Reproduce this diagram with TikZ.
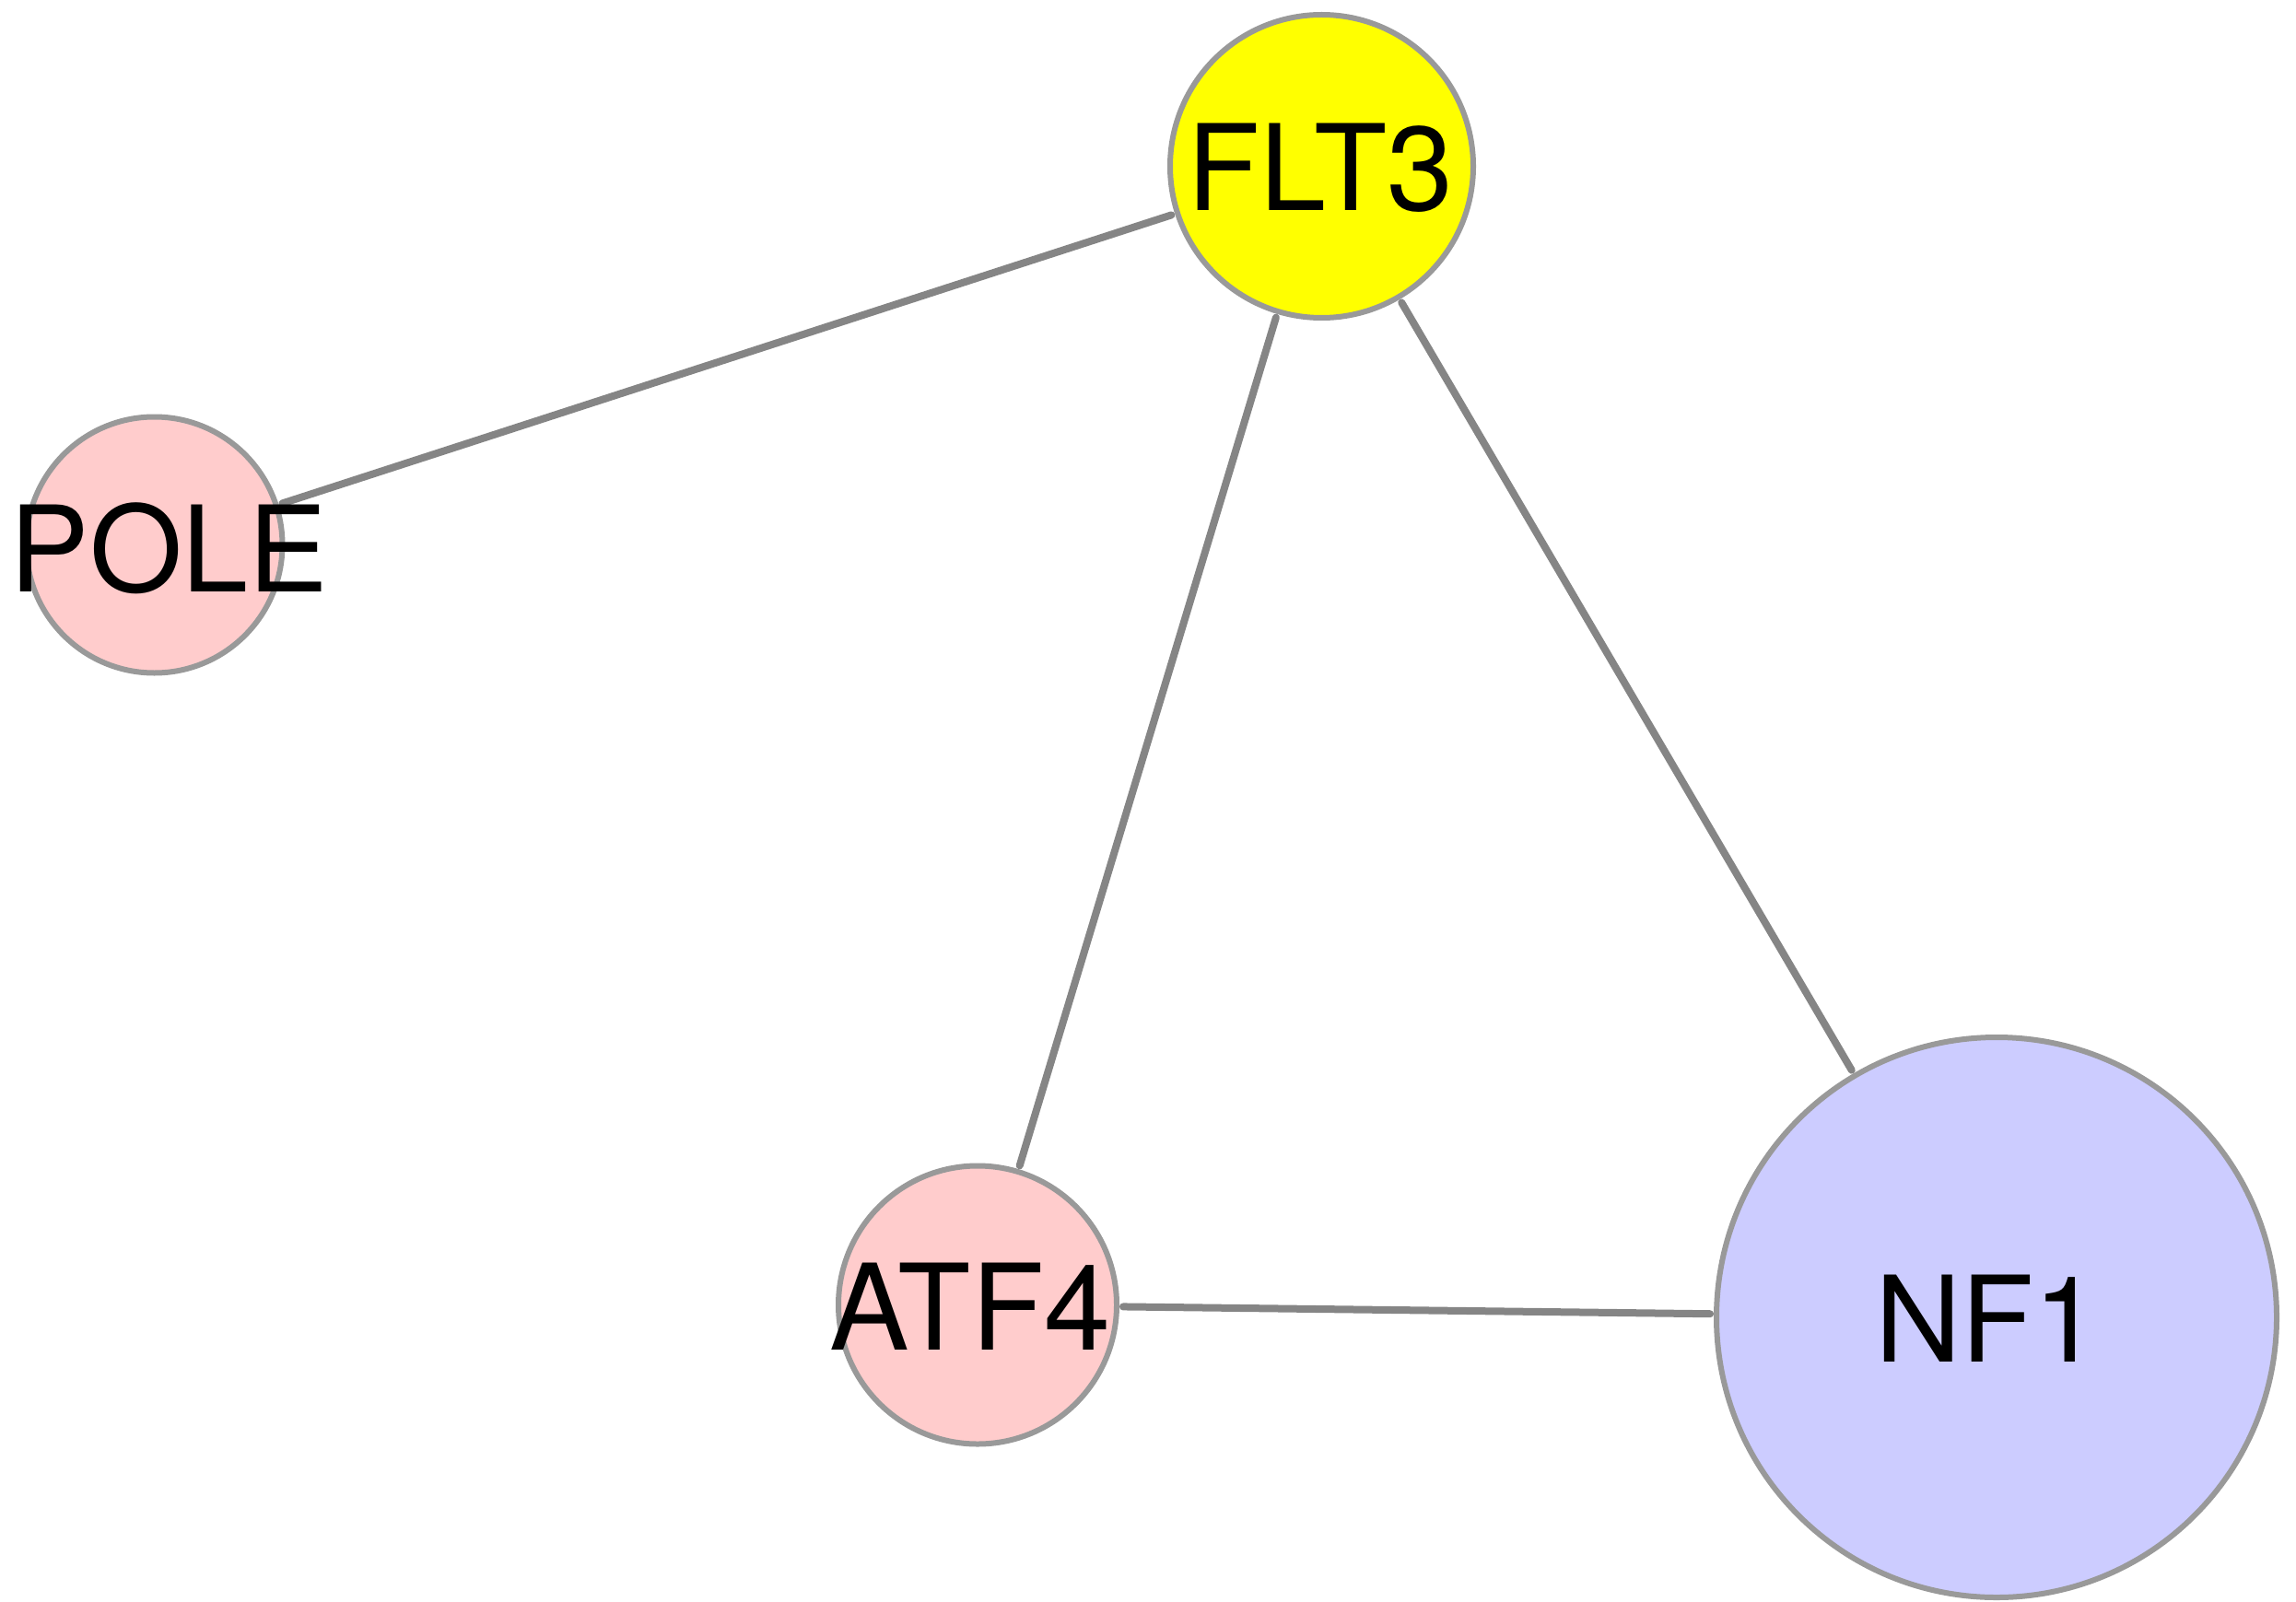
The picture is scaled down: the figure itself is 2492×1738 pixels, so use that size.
\documentclass[tikz,border=0pt]{standalone}
\usepackage{fontspec}
\setmainfont{TeX Gyre Heros}
\definecolor{nodeborder}{HTML}{999999}
\definecolor{edgecol}{HTML}{858585}
\definecolor{yellowfill}{HTML}{FFFF00}
\definecolor{pinkfill}{HTML}{FFCCCC}
\definecolor{bluefill}{HTML}{CCCCFF}
\tikzset{
  gene/.style={circle, draw=nodeborder, line width=3pt, inner sep=0pt},
  genelabel/.style={anchor=base, inner sep=0pt, font=\fontsize{64.8}{70}\selectfont},
  link/.style={draw=edgecol, line width=4pt, line cap=round, shorten >=2pt, shorten <=2pt}
}
\begin{document}
\begin{tikzpicture}[x=0.5pt,y=-0.5pt]
\useasboundingbox (0,0) rectangle (2492,1738);
\node[gene, fill=yellowfill, minimum size=164.5pt] (flt3) at (1434.5,180.5) {};
\node[gene, fill=pinkfill, minimum size=139pt] (pole) at (167.5,591.5) {};
\node[gene, fill=pinkfill, minimum size=151pt] (atf4) at (1061,1416.5) {};
\node[gene, fill=bluefill, minimum size=304pt] (nf1) at (2167,1430) {};
\path[link] (flt3) -- (pole);
\path[link] (flt3) -- (atf4);
\path[link] (flt3) -- (nf1);
\path[link] (atf4) -- (nf1);
\node[genelabel] (tflt3) at (1433,229) {FLT3};
\node[genelabel] (tpole) at (183.5,642) {POLE};
\node[genelabel] (tatf4) at (1053,1465) {ATF4};
\node[genelabel] (tnf1) at (2157.5,1478) {NF1};
\end{tikzpicture}
\end{document}
